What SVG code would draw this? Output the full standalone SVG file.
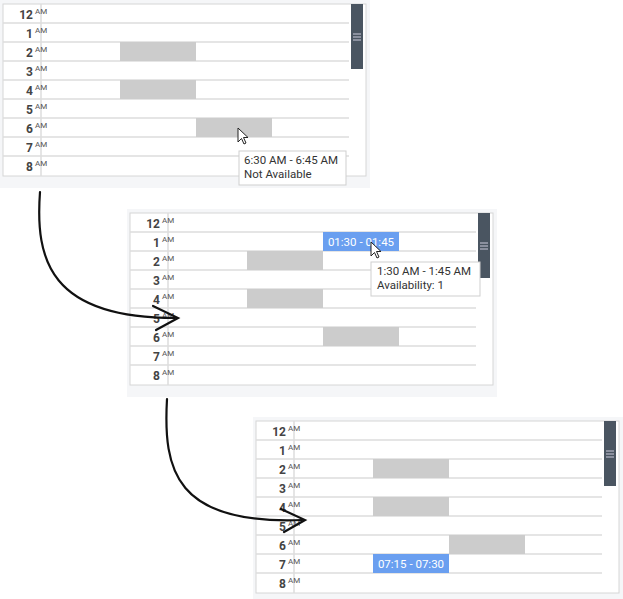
<svg xmlns="http://www.w3.org/2000/svg" width="623" height="599" viewBox="0 0 623 599">
<style>
.bg{fill:#f5f6f8}.box{fill:#fff;stroke:#d6d6d6;stroke-width:1}
.ln{stroke:#dcdcdc;stroke-width:1.5}
.hr{font-family:Roboto,"Liberation Sans",sans-serif;font-size:12px;font-weight:bold;fill:#444;text-anchor:end}
.am{font-family:Roboto,"Liberation Sans",sans-serif;font-size:8px;fill:#555}
.busy{fill:#cccccc}.sel{fill:#6a9ff0}
.st{font-family:Roboto,"Liberation Sans",sans-serif;font-size:11.5px;fill:#fff}
.sb{fill:#4a5561}.tip{fill:#fff;stroke:#cfcfcf}
.tt{font-family:Roboto,"Liberation Sans",sans-serif;font-size:11.5px;fill:#333}
.arr{fill:none;stroke:#111;stroke-width:2.2;stroke-linecap:round}
</style>
<defs>
<g id="labels">
<text class="hr" x="30" y="15">12</text><text class="am" x="32" y="10">AM</text>
<text class="hr" x="30" y="34">1</text><text class="am" x="32" y="29">AM</text>
<text class="hr" x="30" y="53">2</text><text class="am" x="32" y="48">AM</text>
<text class="hr" x="30" y="72">3</text><text class="am" x="32" y="67">AM</text>
<text class="hr" x="30" y="91">4</text><text class="am" x="32" y="86">AM</text>
<text class="hr" x="30" y="110">5</text><text class="am" x="32" y="105">AM</text>
<text class="hr" x="30" y="129">6</text><text class="am" x="32" y="124">AM</text>
<text class="hr" x="30" y="148">7</text><text class="am" x="32" y="143">AM</text>
<text class="hr" x="30" y="167">8</text><text class="am" x="32" y="162">AM</text>
</g>
<g id="grid">
<rect class="bg" x="-3" y="-4" width="370" height="188"/>
<rect class="box" x="0" y="0" width="363" height="172"/>
<line class="ln" x1="38" y1="0" x2="38" y2="172"/>
<g class="ln"><line x1="0" y1="19" x2="346" y2="19"/><line x1="0" y1="38" x2="346" y2="38"/><line x1="0" y1="57" x2="346" y2="57"/><line x1="0" y1="76" x2="346" y2="76"/><line x1="0" y1="95" x2="346" y2="95"/><line x1="0" y1="114" x2="346" y2="114"/><line x1="0" y1="133" x2="346" y2="133"/><line x1="0" y1="152" x2="346" y2="152"/></g>
<use href="#labels"/>
<rect class="busy" x="117" y="38" width="76" height="19"/>
<rect class="busy" x="117" y="76" width="76" height="19"/>
<rect class="busy" x="193" y="114" width="76" height="19"/>
<rect class="sb" x="348" y="0" width="12" height="65"/>
<g stroke="#ccd" stroke-width="1"><line x1="350" y1="30" x2="358" y2="30"/><line x1="350" y1="33" x2="358" y2="33"/><line x1="350" y1="36" x2="358" y2="36"/></g>
</g>
<path id="cur" d="M0 0 L0 14 L3.5 10.5 L6 16 L8 15 L5.5 9.5 L10 9.5 Z" fill="#fff" stroke="#222" stroke-width="1"/>
</defs>
<g id="panel1" transform="translate(3,4)">
<use href="#grid"/>
</g>
<g id="panel2" transform="translate(130,213)">
<use href="#grid"/>
<rect class="sel" x="193" y="19" width="76" height="19"/>
<text class="st" x="231" y="33" text-anchor="middle">01:30 - 01:45</text>
</g>
<g id="panel3" transform="translate(256,421)">
<use href="#grid"/>
<rect class="sel" x="117" y="133" width="76" height="19"/>
<text class="st" x="155" y="147" text-anchor="middle">07:15 - 07:30</text>
</g>
<g id="connectors">
<path class="arr" d="M40 192 C35 260 50 318 175 318"/>
<path class="arr" d="M153 306 L178 318 L156 330"/>
<path class="arr" d="M167 399 C163 470 175 525 302 520"/>
<path class="arr" d="M281 509 L305 520 L284 532"/>
</g>
<g id="tooltip1">
<use href="#cur" x="238" y="128"/>
<rect class="tip" x="239" y="151" width="107" height="34"/>
<text class="tt" x="244" y="164">6:30 AM - 6:45 AM</text>
<text class="tt" x="244" y="178">Not Available</text>
</g>
<g id="tooltip2">
<use href="#cur" x="371" y="242"/>
<rect class="tip" x="371" y="262" width="109" height="34"/>
<text class="tt" x="377" y="275">1:30 AM - 1:45 AM</text>
<text class="tt" x="377" y="289">Availability: 1</text>
</g>
</svg>
